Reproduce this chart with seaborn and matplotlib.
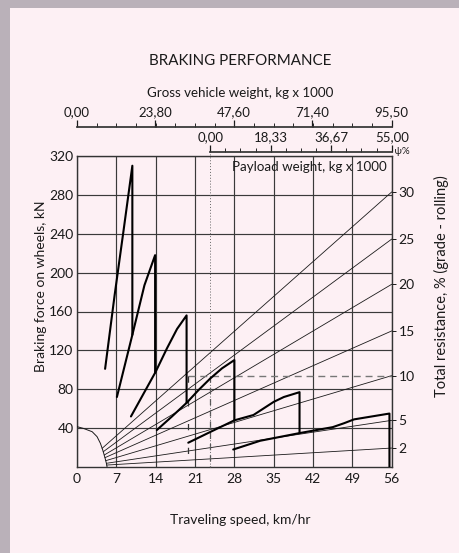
import matplotlib
matplotlib.use("Agg")
import matplotlib.pyplot as plt
from matplotlib.patches import Rectangle
from matplotlib.ticker import MultipleLocator, FixedLocator, FixedFormatter
import pandas as pd
import seaborn as sns

# traced gear curves: speed (km/hr) vs braking force (kN), incl. vertical drop at each shift
gear1_speed = [5.0, 6.7, 8.3, 9.85, 9.85]
gear1_force = [101, 177, 244, 310, 136]
gear2_speed = [7.1, 9.85, 12.0, 13.9, 13.9]
gear2_force = [72, 136, 187, 218, 97]
gear3_speed = [9.6, 14.0, 16.0, 17.8, 19.5, 19.5]
gear3_force = [52, 98, 122, 142, 156, 66]
gear4_speed = [14.2, 16.9, 19.5, 21.6, 23.7, 25.8, 28.0, 28.0]
gear4_force = [38, 52, 66, 79, 91, 101.5, 110, 48]
gear5_speed = [19.8, 23.7, 28.0, 31.4, 35.0, 36.8, 39.6, 39.6]
gear5_force = [25, 36, 48, 53.5, 67, 72, 77, 35]
gear6_speed = [27.8, 32.6, 39.7, 45.5, 47.5, 49.3, 55.6, 55.6]
gear6_force = [18, 27, 35, 41, 45, 49, 55, 0]

# total resistance fan: start point on the arc, end force at the right edge
resist_pct = [30, 25, 20, 15, 10, 5, 2]
fan_start_speed = [4.47, 4.67, 4.84, 4.97, 5.11, 5.23, 5.29]
fan_start_force = [19.2, 15.7, 12.3, 9.6, 6.5, 3.8, 2.0]
fan_end_force = [283, 234.5, 188, 140, 94, 48, 19.5]

# quarter arc near the origin
arc_speed = [0.0, 1.1, 2.7, 3.57, 4.16, 4.58, 4.93, 5.23, 5.35]
arc_force = [41.5, 39.8, 36.3, 31.2, 24.4, 17.5, 10.6, 3.8, 0.0]

# construction lines
ten_pct_force = 93.5
shift_speed = 19.7
payload_zero_speed = 23.7

speed_ticks = [0, 7, 14, 21, 28, 35, 42, 49, 56]
force_ticks = [40, 80, 120, 160, 200, 240, 280, 320]
gross_ticks = [0.0, 23.80, 47.60, 71.40, 95.50]
gross_labels = ["0,00", "23,80", "47,60", "71,40", "95,50"]
payload_ticks = [0.0, 18.33, 36.67, 55.00]
payload_labels = ["0,00", "18,33", "36,67", "55,00"]

sns.set_theme(style="ticks")
plt.rcParams["font.family"] = ["Lato", "DejaVu Sans"]
ink = "#1a1a1a"
grid_c = "#3a3a3a"

fig = plt.figure(figsize=(4.6, 5.53), dpi=100, facecolor="#bab1b9")
fig.patches.append(Rectangle((10 / 460, 0), 1, 1 - 8 / 553, transform=fig.transFigure,
                             facecolor="#fdf0f4", edgecolor="none", zorder=-10))

L, B, W, H = 77 / 460, 86 / 553, 314.7 / 460, 311 / 553
ax = fig.add_axes([L, B, W, H])
ax.set_facecolor("none")

gears = [(gear1_speed, gear1_force), (gear2_speed, gear2_force), (gear3_speed, gear3_force),
         (gear4_speed, gear4_force), (gear5_speed, gear5_force), (gear6_speed, gear6_force)]
gear_df = pd.concat([pd.DataFrame({"speed": s, "force": f, "gear": i})
                     for i, (s, f) in enumerate(gears)], ignore_index=True)

fan_rows = []
for p, xs, ys, ye in zip(resist_pct, fan_start_speed, fan_start_force, fan_end_force):
    fan_rows += [{"speed": xs, "force": ys, "pct": p}, {"speed": 56, "force": ye, "pct": p}]
fan_df = pd.DataFrame(fan_rows)

ax.grid(True, color=grid_c, lw=0.85)
sns.lineplot(data=fan_df, x="speed", y="force", units="pct", estimator=None, sort=False,
             color=ink, lw=0.6, ax=ax, zorder=3)
sns.lineplot(x=arc_speed, y=arc_force, sort=False, estimator=None, color=ink, lw=0.7,
             ax=ax, zorder=3)
sns.lineplot(data=gear_df, x="speed", y="force", units="gear", estimator=None, sort=False,
             color="black", lw=1.5, ax=ax, zorder=4)

# dashed / dotted construction lines
ax.plot([shift_speed, 56], [ten_pct_force, ten_pct_force], ls=(0, (5, 3.5)), color="#777777",
        lw=1.0, zorder=3)
ax.plot([shift_speed, shift_speed], [ten_pct_force, -4], ls=(0, (5, 14)), color="#333333",
        lw=0.9, zorder=3, clip_on=False)
ax.plot([payload_zero_speed, payload_zero_speed], [ten_pct_force, 0], ls=(0, (5, 4)),
        color="#555555", lw=0.9, zorder=3)
ax.plot([payload_zero_speed, payload_zero_speed], [0, 324], ls=(0, (1, 2)), color="#666666",
        lw=0.7, zorder=3, clip_on=False)

ax.set_xlim(0, 56)
ax.set_ylim(0, 320)
ax.set_xticks(speed_ticks)
ax.set_yticks(force_ticks)
ax.tick_params(axis="both", length=0, labelsize=10, colors=ink)
ax.tick_params(axis="x", pad=4)
ax.tick_params(axis="y", pad=2.5)
ax.set_xlabel("")
ax.set_ylabel("")
for s in ax.spines.values():
    s.set_visible(True)
    s.set_color("#333333")
    s.set_linewidth(1.0)

ax.text(0.737, 0.9656, "Payload weight, kg x 1000", transform=ax.transAxes,
        ha="center", va="center", fontsize=9.6, color=ink, zorder=5)

# right-side resistance labels
ax2 = ax.twinx()
ax2.set_ylim(0, 320)
ax2.set_yticks(fan_end_force)
ax2.set_yticklabels([str(p) for p in resist_pct])
ax2.tick_params(axis="y", length=3, width=0.7, pad=2, labelsize=10, colors=ink)
for s in ax2.spines.values():
    s.set_visible(False)

# gross vehicle weight scale
axg = fig.add_axes([L, (553 - 127) / 553, W, 0.0001])
axg.set_facecolor("none")
for k, s in axg.spines.items():
    s.set_visible(k == "top")
axg.spines["top"].set_color("#333333")
axg.set_xlim(0, 95.5)
axg.set_yticks([])
axg.xaxis.tick_top()
axg.xaxis.set_major_locator(FixedLocator(gross_ticks))
axg.xaxis.set_major_formatter(FixedFormatter(gross_labels))
axg.xaxis.set_minor_locator(MultipleLocator(95.5 / 16))
axg.tick_params(axis="x", which="major", length=5, width=0.9, pad=1.5, labelsize=9.5, colors=ink)
axg.tick_params(axis="x", which="minor", length=3, width=0.7, top=True, bottom=False)

# payload weight scale
pl = L + W * payload_zero_speed / 56
axp = fig.add_axes([pl, (553 - 152) / 553, L + W - pl, 0.0001])
axp.set_facecolor("none")
for k, s in axp.spines.items():
    s.set_visible(k == "top")
axp.spines["top"].set_color("#333333")
axp.set_xlim(0, 55)
axp.set_yticks([])
axp.xaxis.tick_top()
axp.xaxis.set_major_locator(FixedLocator(payload_ticks))
axp.xaxis.set_major_formatter(FixedFormatter(payload_labels))
axp.xaxis.set_minor_locator(MultipleLocator(55 / 12))
axp.tick_params(axis="x", which="major", length=5, width=0.9, pad=1.5, labelsize=9.5, colors=ink)
axp.tick_params(axis="x", which="minor", length=3, width=0.7, top=True, bottom=False)
axp.text(1.0, 0, " ψ%", transform=axp.transAxes, ha="left", va="center", fontsize=7,
         color=ink)

fig.text(240 / 460, 1 - 61 / 553, "BRAKING PERFORMANCE", ha="center", va="center",
         fontsize=10.9, color=ink)
fig.text(240 / 460, 1 - 93 / 553, "Gross vehicle weight, kg x 1000", ha="center", va="center",
         fontsize=9.6, color=ink)
fig.text(240 / 460, 1 - 520 / 553, "Traveling speed, km/hr", ha="center", va="center",
         fontsize=10, color=ink)
fig.text(41 / 460, 1 - 286 / 553, "Braking force on wheels, kN", ha="center", va="center",
         rotation=90, fontsize=10, color=ink)
fig.text(441 / 460, 1 - 286 / 553, "Total resistance, % (grade - rolling)", ha="center",
         va="center", rotation=90, fontsize=10.5, color=ink)

fig.savefig("out.png", dpi=100, facecolor=fig.get_facecolor())
